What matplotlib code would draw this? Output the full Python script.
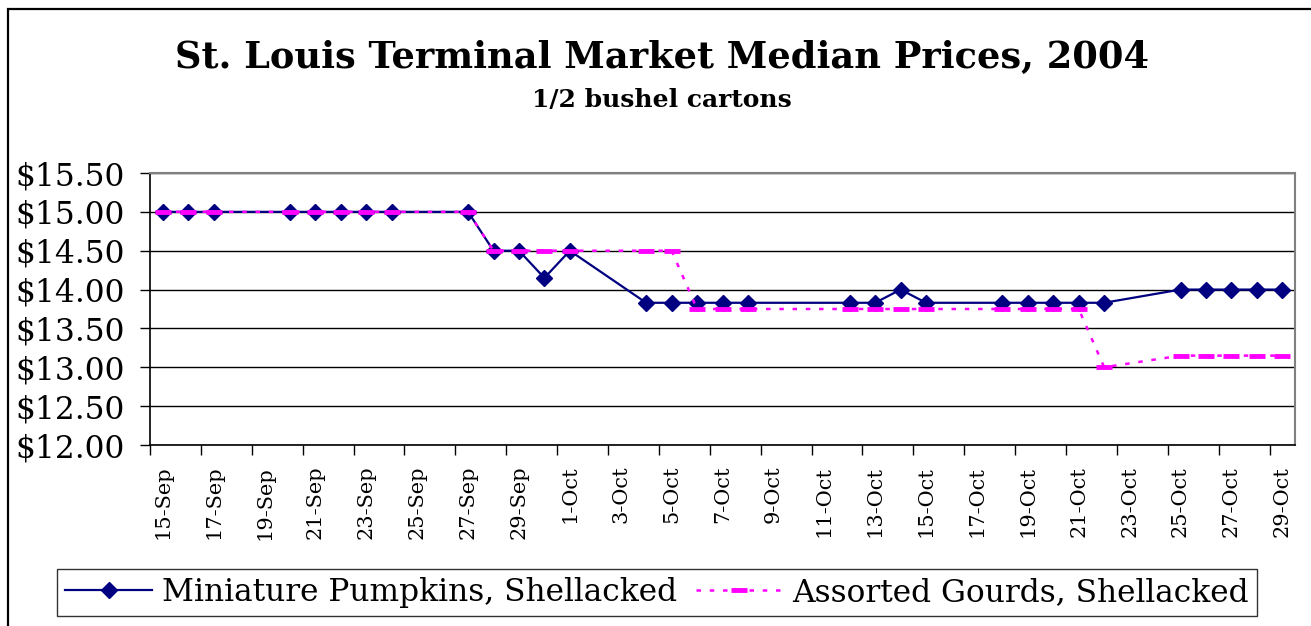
import matplotlib
matplotlib.use("Agg")
import matplotlib.pyplot as plt
import matplotlib.dates as mdates
from matplotlib.ticker import FuncFormatter, MultipleLocator
from matplotlib.patches import Rectangle
import numpy as np
import datetime as dt

# market report dates (2004)
dates = ["09-15", "09-16", "09-17", "09-20", "09-21", "09-22", "09-23", "09-24",
         "09-27", "09-28", "09-29", "09-30", "10-01", "10-04", "10-05", "10-06",
         "10-07", "10-08", "10-12", "10-13", "10-14", "10-15", "10-18", "10-19",
         "10-20", "10-21", "10-22", "10-25", "10-26", "10-27", "10-28", "10-29"]

pumpkins = [15.00, 15.00, 15.00, 15.00, 15.00, 15.00, 15.00, 15.00,
            15.00, 14.50, 14.50, 14.15, 14.50, 13.83, 13.83, 13.83,
            13.83, 13.83, 13.83, 13.83, 14.00, 13.83, 13.83, 13.83,
            13.83, 13.83, 13.83, 14.00, 14.00, 14.00, 14.00, 14.00]

gourds = [15.00, 15.00, 15.00, 15.00, 15.00, 15.00, 15.00, 15.00,
          15.00, 14.50, 14.50, 14.50, 14.50, 14.50, 14.50, 13.75,
          13.75, 13.75, 13.75, 13.75, 13.75, 13.75, 13.75, 13.75,
          13.75, 13.75, 13.00, 13.15, 13.15, 13.15, 13.15, 13.15]

x = [dt.date(2004, int(d[:2]), int(d[3:])) for d in dates]
xn = mdates.date2num(x)

plt.rcParams['font.family'] = ['DejaVu Serif']

fig = plt.figure(figsize=(13.11, 6.26), dpi=100)
ax = fig.add_axes([150 / 1311, 1 - 445 / 626, 1145 / 1311, 272 / 626])

ax.plot(xn, pumpkins, color="#000080", lw=1.6, marker="D", ms=8,
        label="Miniature Pumpkins, Shellacked", zorder=3)
ax.plot(xn, gourds, color="#FF00FF", lw=1.8, linestyle=(0, (1.8, 3.5)),
        marker="_", ms=11, mew=3.5, label="Assorted Gourds, Shellacked", zorder=4)

# y axis
ax.set_ylim(12.0, 15.5)
ax.yaxis.set_major_locator(MultipleLocator(0.5))
ax.yaxis.set_major_formatter(FuncFormatter(lambda v, p: "${:.2f}".format(v)))
ax.grid(axis="y", color="black", lw=1)
ax.set_axisbelow(True)

# x axis: one slot per day, label every second day
ax.set_xlim(xn[0] - 0.5, xn[-1] + 0.5)
ax.set_xticks(np.arange(xn[0], xn[-1] + 1, 2))
ax.xaxis.set_major_formatter(FuncFormatter(
    lambda v, p: "{}-{}".format(mdates.num2date(v).day, mdates.num2date(v).strftime("%b"))))
ax.set_xticks(np.arange(xn[0] - 0.5, xn[-1], 2), minor=True)
ax.tick_params(axis="x", which="major", length=0, labelsize=15, rotation=90, pad=15)
ax.tick_params(axis="x", which="minor", length=7, width=1)
ax.tick_params(axis="y", length=7, width=1, labelsize=22.5, pad=11)

for s in ["top", "right"]:
    ax.spines[s].set_color("#808080")
    ax.spines[s].set_linewidth(1.5)
ax.spines["left"].set_linewidth(1.2)
ax.spines["bottom"].set_linewidth(1.2)

fig.text(662 / 1311, 1 - 58 / 626, "St. Louis Terminal Market Median Prices, 2004",
         ha="center", va="center", fontsize=26.5, fontweight="bold")
fig.text(662 / 1311, 1 - 100 / 626, "1/2 bushel cartons",
         ha="center", va="center", fontsize=18, fontweight="bold")

leg = fig.legend(loc="upper center", bbox_to_anchor=(657 / 1311, 1 - 569 / 626), ncol=2,
                 fontsize=22.5, frameon=True, fancybox=False, edgecolor="black",
                 handlelength=2.8, handletextpad=0.3, columnspacing=0.6,
                 borderpad=0.25, borderaxespad=0)
leg.get_frame().set_linewidth(1)

# border around the whole chart (cut off at right and bottom)
fig.patches.append(Rectangle((8 / 1311, -0.1), 1.2, 1 - 9 / 626 + 0.1,
                             transform=fig.transFigure, fill=False,
                             edgecolor="black", lw=1.6))

fig.savefig("out.png", dpi=100)
